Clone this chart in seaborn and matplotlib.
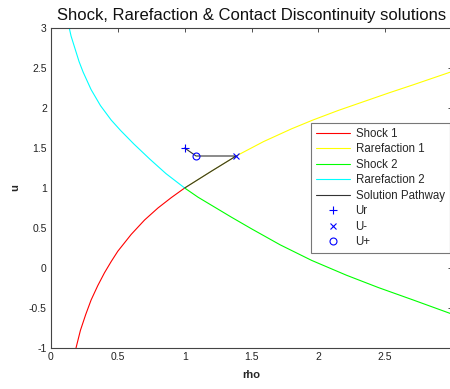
import matplotlib
matplotlib.use("Agg")
import matplotlib.pyplot as plt
import seaborn as sns

# Data
shock1_rho = [0.187, 0.22, 0.26, 0.3, 0.35, 0.4, 0.45, 0.5, 0.6, 0.7, 0.8, 0.9, 1.0]
shock1_u = [-1.0, -0.78, -0.58, -0.40, -0.22, -0.06, 0.08, 0.21, 0.42, 0.60, 0.75, 0.88, 1.0]

raref1_rho = [1.0, 1.2, 1.385, 1.59, 1.8, 1.96, 2.15, 2.34, 2.53, 2.71, 2.99]
raref1_u = [1.0, 1.21, 1.40, 1.58, 1.74, 1.85, 1.97, 2.08, 2.19, 2.29, 2.45]

shock2_rho = [1.0, 1.1, 1.215, 1.35, 1.5, 1.714, 1.95, 2.21, 2.45, 2.71, 2.99]
shock2_u = [1.0, 0.885, 0.77, 0.635, 0.49, 0.29, 0.095, -0.09, -0.245, -0.40, -0.57]

raref2_rho = [0.13, 0.15, 0.18, 0.21, 0.24, 0.30, 0.37, 0.45, 0.52, 0.62, 0.74, 0.86, 1.0]
raref2_u = [3.05, 2.90, 2.74, 2.58, 2.45, 2.23, 2.03, 1.85, 1.72, 1.55, 1.36, 1.18, 1.0]

path_rho = [1.0, 1.2, 1.385, 1.085, 1.0]
path_u = [1.0, 1.21, 1.40, 1.40, 1.5]

ur = (1.0, 1.5)
um = (1.385, 1.40)
up = (1.085, 1.40)

xticks = [0, 0.5, 1, 1.5, 2, 2.5]
yticks = [-1, -0.5, 0, 0.5, 1, 1.5, 2, 2.5, 3]

sns.set_theme(style="white")
plt.rcParams['font.family'] = ['Liberation Sans', 'DejaVu Sans']

fig = plt.figure(figsize=(4.5, 3.89), dpi=100)
ax = fig.add_axes([51/450, 41/389, 401/450, 320/389])

lw = 0.8
sns.lineplot(x=shock1_rho, y=shock1_u, color='#ff0000', lw=lw, sort=False,
             estimator=None, ax=ax, label='Shock 1')
sns.lineplot(x=raref1_rho, y=raref1_u, color='#ffff00', lw=lw, sort=False,
             estimator=None, ax=ax, label='Rarefaction 1')
sns.lineplot(x=shock2_rho, y=shock2_u, color='#00ff00', lw=lw, sort=False,
             estimator=None, ax=ax, label='Shock 2')
sns.lineplot(x=raref2_rho, y=raref2_u, color='#00ffff', lw=lw, sort=False,
             estimator=None, ax=ax, label='Rarefaction 2')
sns.lineplot(x=path_rho, y=path_u, color='#333333', lw=lw, sort=False,
             estimator=None, ax=ax, label='Solution Pathway')
ax.plot([ur[0]], [ur[1]], linestyle='none', marker='+', color='#0000ff',
        ms=6, mew=0.8, label='Ur')
ax.plot([um[0]], [um[1]], linestyle='none', marker='x', color='#0000ff',
        ms=5, mew=0.8, label='U-')
ax.plot([up[0]], [up[1]], linestyle='none', marker='o', mfc='none',
        color='#0000ff', ms=5, mew=0.8, label='U+')

ax.set_xlim(0, 3)
ax.set_ylim(-1, 3)
ax.set_xticks(xticks)
ax.set_xticklabels([f"{t:g}" for t in xticks])
ax.set_yticks(yticks)
ax.set_yticklabels([f"{t:g}" for t in yticks])
ax.tick_params(direction='in', top=True, right=True, length=3, width=0.6,
               labelsize=7.5, colors='#333333', pad=3)
ax.tick_params(axis='both', labelcolor='#222222')
for s in ax.spines.values():
    s.set_color('#444444')
    s.set_linewidth(0.8)

ax.set_title('Shock, Rarefaction & Contact Discontinuity solutions',
             fontsize=12, pad=6, color='#111111')
ax.set_xlabel('rho', fontsize=8, fontweight='bold', labelpad=6)
ax.set_ylabel('u', fontsize=8, fontweight='bold', labelpad=6)

leg = ax.legend(loc='center right', bbox_to_anchor=(1.0, 0.5),
                borderaxespad=0.2, fontsize=8.3, handlelength=2.9,
                handletextpad=0.5, labelspacing=0.3, borderpad=0.45,
                fancybox=False, framealpha=1, edgecolor='#777777')
leg.get_frame().set_linewidth(0.8)

fig.savefig('out.png', dpi=100)
